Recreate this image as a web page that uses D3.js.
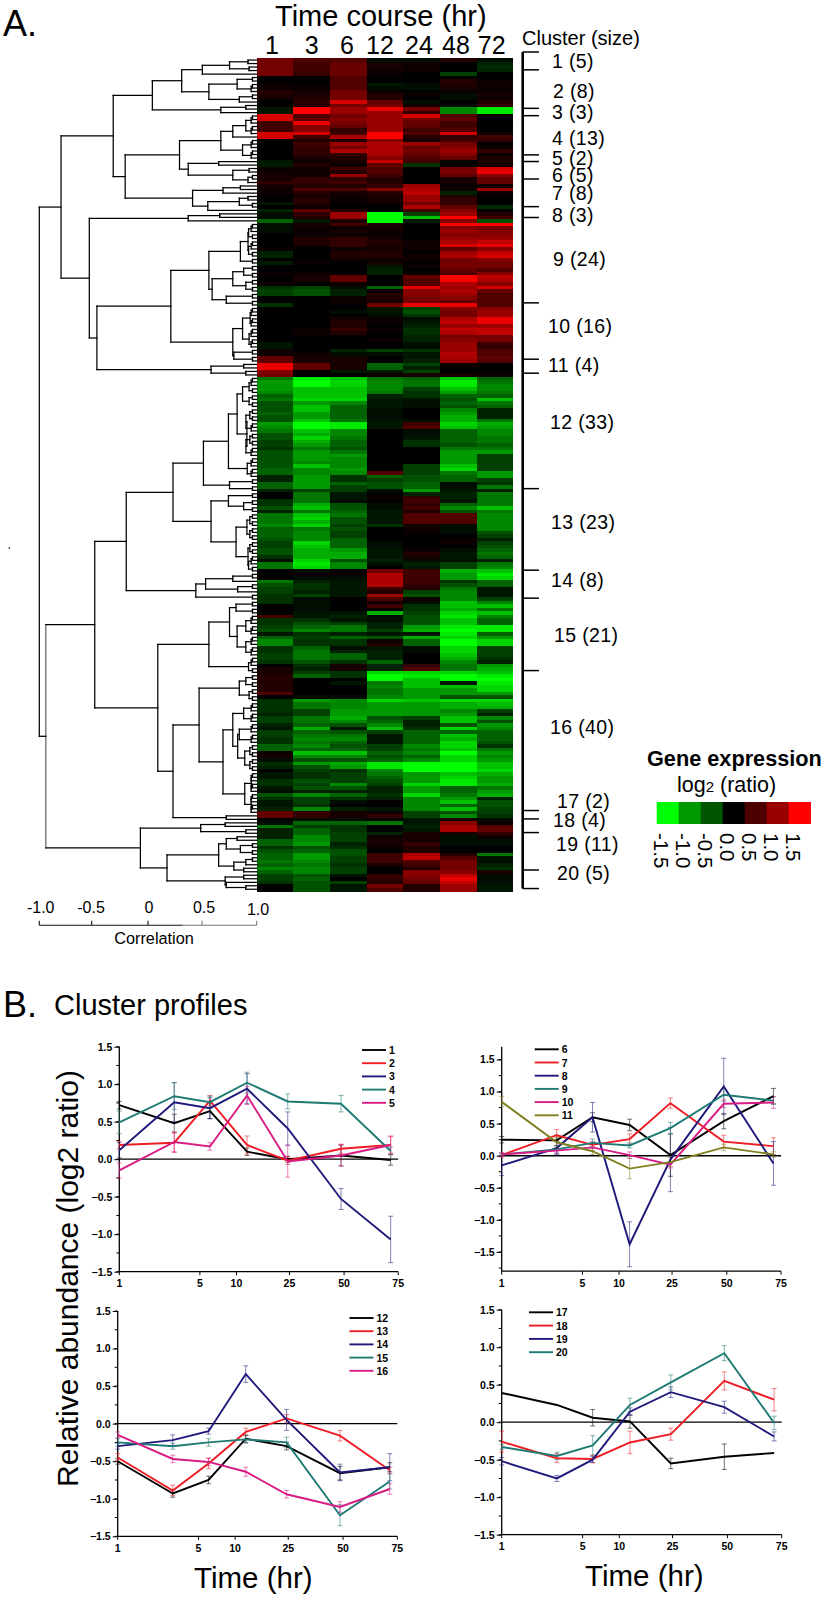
<!DOCTYPE html>
<html><head><meta charset="utf-8">
<script src="https://cdn.jsdelivr.net/npm/d3@7/dist/d3.min.js"></script>
<style>html,body{margin:0;padding:0;background:#fff}svg{display:block}text{font-family:"Liberation Sans",Arial,sans-serif;fill:#000}</style>
</head><body><svg id="c" width="823" height="1598"></svg>
<script>
// ---------- data ----------
const timeLabels=["1","3","6","12","24","48","72"];
const clusterSizes=[5,8,3,13,2,5,8,3,24,16,4,33,23,8,21,40,2,4,11,5];
// cluster boundaries in row units
const clusterBreaks=[-1.8,3.3,14.3,16.4,27.6,29.5,34.5,42.4,45.5,69.9,86,90,123,146.3,154.3,175,215,217.4,221.3,232,237.3];
const legendValues=[-1.5,-1.0,-0.5,0.0,0.5,1.0,1.5];
const correlationTicks=[-1.0,-0.5,0,0.5,1.0];
const heatValues=[
[.8,.6,.6,-.1,-.1,.3,-.1],[.8,.5,.7,.2,.1,-.05,-.3],[.8,.5,.75,.2,.1,0,-.35],[.8,.5,.75,.15,.1,0,-.3],[.8,.45,.75,.1,.05,-.5,.05],
[0,0,.6,0,.05,.05,.05],[.05,.05,.6,0,-.05,.3,.1],[.15,0,.6,-.2,-.1,.3,.15],[.15,.1,.6,-.15,-.1,.2,.1],[.3,.2,.8,.1,.05,.1,.15],[.3,.2,.8,.3,.1,-.1,.2],[.1,.3,.8,.3,-.05,-.1,.1],[0,.35,1.3,.7,-.1,-.05,.3],
[0,.3,.8,.8,.1,-.1,.4],[-.2,1.5,1,1.4,.8,-.9,-1.4],[-.2,1.5,1,1,.4,-.9,-1.4],
[1.3,.6,.8,1,1.3,.6,0],[1.3,.7,.9,1,.8,.7,-.05],[.5,1.4,.8,1,.7,.5,-.05],[.5,.9,.7,1,.7,.5,-.05],[.5,.9,.4,1,.5,.6,0],[1.3,1.3,.5,1.5,.6,1.3,.1],[1.3,.5,1.1,1.5,.3,.4,.5],[0,.3,.3,.9,.2,.5,.4],[0,.5,1,1.1,1,.8,0],[0,.4,.8,1.1,.7,.9,.1],[0,.4,1.1,1.1,.8,1,.4],[0,.35,.4,1.1,.7,.9,.1],[0,.2,.3,.9,.6,.7,.2],
[-.2,.1,.2,1.2,.5,0,.25],[-.25,.3,.1,.7,-.4,.05,.2],
[.15,.15,.5,.6,0,.8,1.3],[.15,.1,.3,.6,0,.8,1.4],[.2,.15,1,.5,0,.7,.9],[.2,.4,.4,.3,-.05,.2,.7],[.4,.4,.5,.3,-.05,.2,.7],
[.2,.3,.3,.4,1,.1,.1],[.1,.6,.6,.9,1.1,.1,1],[.1,.3,.2,.3,1.2,-.3,.1],[0,.2,.1,.2,1,.3,0],[0,.35,.15,.2,1,.4,-.05],[-.2,.3,.05,.1,.8,.4,-.05],[-.05,.1,.05,.05,1.1,.7,-.35],[-.3,.7,.3,.05,.5,.9,.05],
[-.15,.4,1,-1.5,-.5,1,.3],[-.1,.3,1,-1.5,-1.2,1.5,.5],[-.7,-.2,.3,-1.5,-.2,.9,-.6],
[-.1,.2,.5,.2,0,1.5,1.5],[-.1,.1,.1,.2,0,.9,.8],[-.1,.1,.2,.1,0,1,.9],[0,.1,.1,.1,0,.9,.9],[.05,.3,.4,.2,.05,1,1],[.05,.3,.4,.3,.1,1.1,1.2],[.05,.2,.4,.2,.1,1.3,1.4],[.1,.05,.1,.2,.1,.7,.9],[-.3,.05,.3,.3,.05,1,1.2],[-.3,.05,.3,.3,.1,1.1,1.3],[0,.05,.1,.1,.1,.8,.9],[-.25,.1,.05,.2,.05,.8,.8],[0,.05,.05,-.2,.1,.8,.8],[.05,.05,-.05,-.3,0,.7,.6],[.1,.1,.05,-.3,.1,.6,.9],[0,.2,.7,0,.7,1.5,1.2],[0,.2,.7,0,.6,1.5,1.1],[.15,.05,.1,.05,.6,1.1,.9],[-.4,-.5,-.1,-.7,1.4,1,1.3],[-.5,-.6,-.3,.1,.9,1.1,.7],[-.5,-.6,-.3,.3,.9,1,.6],[.05,.05,.15,.3,.8,.9,.6],[0,0,.1,.2,.8,.7,.6],[-.4,0,0,.8,1.4,1.4,.6],
[-.05,0,-.05,-.2,-.5,.9,.9],[-.05,.05,-.1,-.2,-.6,.8,1],[-.05,.05,-.05,-.1,-.4,.8,1],[0,.05,.2,.1,-.1,1.1,1.4],[0,.05,.3,.1,-.2,1.2,1.4],[0,.05,.3,.05,-.3,1,1],[0,.1,.4,.1,-.4,1.2,1.2],[0,.1,.3,.05,-.4,1.1,1.2],[0,.05,.05,.05,-.3,.8,.8],[0,.05,.05,.1,-.3,.9,.8],[-.2,0,.05,.05,-.15,1,.5],[-.2,-.05,.05,.05,-.1,1,.4],[.1,.05,-.3,-.5,-.4,1,.6],[.1,.1,-.1,-.1,-.2,1.1,.6],[.7,.2,.2,-.05,-.2,1.1,.7],[.7,.2,.2,.05,-.3,1,.6],
[1.4,.7,.2,-.7,-.5,.1,0],[1.4,.7,.2,-.7,-.3,0,0],[.9,.05,-.2,-.2,-.5,0,0],[.8,0,.05,.1,.2,.2,.1],
[-.8,-1.4,-1.2,-.8,-.7,-1.2,-.7],[-1,-1.5,-1.3,-.9,-.8,-1.4,-.8],[-1,-1.5,-1.3,-.9,-.8,-1.4,-.9],[-1,-1.2,-1.2,-.9,-.5,-1.2,-.9],[-.9,-1.2,-1.2,-.8,-.4,-1,-.8],[-.7,-1.2,-1.2,-.3,-.4,-.7,-.7],[-.8,-1.3,-1.3,-.2,-.2,-.6,-1.2],[-.6,-1,-.9,-.2,-.15,-.7,-.8],[-.6,-1.2,-.7,-.2,-.15,-.6,-.7],[-.6,-1.2,-.7,-.1,0,-.9,-.3],[-.7,-1,-.7,-.1,0,-1,-.3],[-.6,-1,-.7,-.1,0,-1.1,-.3],[-.6,-1.2,-.8,-.2,-.1,-1.1,-.8],[-1,-1.5,-1.4,-.2,.5,-1.3,-1.1],[-.9,-1.5,-1.4,-.2,.6,-1.2,-1],[-.8,-1.2,-.9,.05,-.15,-.7,-.9],[-.6,-1.1,-.9,.05,-.1,-.7,-.9],[-.6,-1.3,-.8,.05,-.2,-.7,-.8],[-.5,-1.1,-.7,0,-.4,-.7,-.8],[-.5,-1,-.7,0,-.4,-.6,-.7],[-.4,-.8,-.6,0,0,-.8,-.8],[-.6,-1,-.8,0,0,-1,-1],[-.6,-1,-1,-.05,0,-1,-.5],[-.6,-1,-.9,0,0,-1,-.5],[-.6,-.9,-.9,0,0,-1,-.5],[-.6,-1.2,-.9,.05,-.5,-1.2,-.5],[-.7,-.9,-1,.05,-.5,-1.3,-.5],[-.7,-.9,-.9,.6,-.5,-.8,-1],[-.3,-1,-.4,-.7,-.6,-.7,-1],[-.3,-1,-.4,-.5,-.6,-.7,-.5],[-.7,-1,-.7,-.6,-.7,-.1,-.4],[-.7,-1,-.5,-.6,-.7,-.1,-.8],[-.3,-.5,-.5,-.1,-1,-.2,-.3],
[0,-.8,-.2,.05,-.3,-.3,-.8],[0,-.8,-.2,.1,.4,-.3,-.8],[-.4,-.8,-.1,.05,.5,-.2,-.8],[-.4,-1.1,-.6,-.1,.4,-.7,-.8],[-.6,-1.2,-.6,-.15,.5,-.9,-1.2],[-.3,-.8,-.7,-.2,.3,-.6,-.8],[-.8,-1.2,-.8,-.2,.6,.6,-.9],[-.8,-1.3,-.6,-.2,.6,.6,-.9],[-.8,-1.1,-.6,-.2,.6,.6,-.9],[-.9,-1.3,-.5,-.4,.2,-.1,-.9],[-.7,-.8,-.6,0,.1,-.1,-.9],[-.7,-.9,-.5,0,.1,-.1,-.6],[-.7,-.9,-.5,0,.05,.05,-.5],[-.6,-.9,-.7,0,.05,.1,-.3],[-.5,-1.3,-.7,-.1,.05,.1,-.5],[-.5,-1.2,-.7,-.1,.05,.05,-.6],[-.6,-1.1,-1,-.2,.1,-.1,-.7],[-.6,-1.1,-1.1,-.2,.3,-.2,-.8],[-.4,-1.1,-1.1,-.2,.2,-.2,-.7],[-.1,-1.3,-.6,-.3,-.1,-.1,-.3],[-.8,-1.4,-.9,-.1,-.3,-.5,-.8],[-.8,-1.3,-.9,-.05,-.2,-.5,-.9],[0,-.1,0,.8,.5,-1.1,-1.2],
[0,.1,0,1.1,.5,-1,-1.4],[-.05,-.1,-.1,1.1,.5,-1,-1.3],[-.8,-.3,-.2,1.1,.5,-.4,-.7],[-.6,-.4,-.2,1.1,.4,-.6,-.7],[-.5,-.4,-.2,.5,.3,-.8,-.2],[-.5,-.3,-.2,.3,-.5,-.9,-.2],[-.4,-.5,-.2,1,-.6,-.9,-.2],[-.4,-.1,.05,.6,.1,-.9,-.5],
[-.4,-.1,.05,.1,-.1,-1.2,-.9],[0,-.1,.05,.5,-.4,-1.2,-1.2],[0,-.1,.05,.1,-.4,-1.1,-.8],[.05,-.2,-.2,-1.1,-.5,-1.3,-1.2],[.5,-.2,-.3,-.1,-.6,-1.4,-.9],[-.4,-.4,-.2,-.1,-.6,-1.2,-.7],[-.4,-.6,-.5,-.3,-.6,-1.2,-.7],[-.5,-.7,-.8,-.3,-1,-1.4,-1.4],[-.6,-.9,-.8,-.5,-1.1,-1.5,-1.4],[-.2,-.4,-.3,-.2,-.2,-1.4,-.7],[-.7,-.5,-.7,-.6,-1.1,-1.3,-1],[-.9,-.4,-.4,.1,-.7,-1.5,-1.3],[-.9,-.4,-.4,.3,-.7,-1.5,-1.3],[-.4,-.7,-.1,-.2,-.1,-1.3,-.5],[-.4,-.8,-.3,-.3,-.1,-1.3,-.5],[-.5,-.8,-.7,-.3,-.05,-1.2,-.5],[-.5,-.8,-.7,-.3,-.05,-1.1,-.4],[-.4,-.6,-.4,-.7,-.05,-.9,-.3],[0,-.4,.2,-.3,.4,-.8,-1],[.2,-.3,.2,-.3,.6,-.8,-1.1],[.2,-.5,-.4,-1.3,-1.3,-1.3,-1.2],
[.3,-.7,-.4,-1.5,-1.4,-1.5,-1.4],[.3,0,-.05,-1.5,-1.2,-1.5,-1.5],[.3,0,-.2,-.8,-1.2,-.2,-1.4],[.3,0,0,-.9,-1.2,-1.2,-1.3],[.3,0,0,-.8,-1,-1,-1.3],[.6,0,0,-.8,-1,-1,-1],[-.05,-.1,-.1,-.9,-1,-.6,-.6],[-.4,-1,-.9,-1.3,-1.2,-1.3,-1.3],[-.4,-.8,-.9,-1,-1,-1.1,-1.2],[-.4,-.8,-.9,-1,-1,-1.1,-1.1],[-.4,-.5,-1,-1,-1,-.9,-.5],[-.3,-.5,-1,-1,-1,-1,-.3],[-.5,-.8,-1.1,-.6,-.5,-1.2,-.9],[-.5,-.8,-.9,-.7,-.3,-1.2,-.6],[-.3,-.7,-.6,-.9,-.3,-.6,-1],[-.2,-1.1,-.2,-1.2,-.4,-1.3,-.9],[-.5,-.7,-.6,-.5,-.7,-.7,-.7],[-.5,-.8,-.8,-.2,-.7,-1.2,-.7],[-.4,-.9,-.9,-.2,-.7,-1.1,-.7],[-.4,-.8,-.7,-.2,-.7,-1.3,-.6],[-.7,-.9,-.6,-.5,-.9,-1.3,-.4],[-.7,-.7,-.7,-.5,-.8,-1.2,-.8],[.1,-1.2,-1.2,-.7,-.9,-1.5,-1],[.2,-.9,-.9,-.6,-.7,-1.3,-.9],[-.1,-.6,-.6,-.7,-.9,-1.3,-1],[-.4,-1,-1.1,-1.4,-1.5,-1.5,-1.2],[-.3,-.6,-1,-1.4,-1.5,-1.5,-1.2],[-.05,-.5,-.4,-.9,-1.5,-1.5,-1.3],[-.2,-.4,-.5,-.8,-1,-1.2,-1.1],[-.2,-.4,-.5,-.7,-1,-1.3,-1],[-.4,-.6,-.5,-.6,-1,-1.4,-1],[-.4,-.5,-.9,-.5,-1.3,-1.4,-1.1],[-.2,-.6,-.6,-.3,-1,-.7,-.8],[-.1,-.3,-.3,-.3,-1,-.7,-1],[-.6,-.9,-.7,-.4,-1.3,-.8,-1.1],[-.4,-.5,-.4,-.3,-.9,-1,-.3],[-.2,-.5,-.1,0,-.9,-1.2,-.6],[-.2,-.4,0,0,-.9,-.7,-.6],[-.3,-.9,-.3,-.2,-.9,-1.2,-.5],[.7,.4,.2,.1,-.5,-.6,-.5],
[.7,.4,.2,.4,-.5,-.9,-.4],[0,-.1,-.1,.05,-.2,.2,-.1],
[-.1,-.7,-.7,-.8,-.2,.9,.1],[-.8,-.5,-.4,0,-.3,1.1,.6],[-.3,-.7,-.4,0,-.2,1.1,.7],[-.3,-.7,-.5,-.3,.2,.2,.4],
[-.3,-.9,-.5,.1,.2,-.1,.1],[-.7,-.9,-.5,.2,.2,-.1,-.1],[-.7,-1,-.3,.2,.4,-.1,-.1],[-.4,-.6,-.4,.1,.3,0,0],[-.6,-.7,-.6,.05,.3,0,0],[-.7,-1,-.6,.5,1.1,.3,-.8],[-.7,-1,-.5,.5,1.2,.6,-.2],[-.8,-.9,-.5,.5,.6,.8,-.1],[-.7,-.8,-.4,.2,.5,.8,-.3],[-.9,-.9,-.5,0,.3,.8,-.4],[-.7,-.9,-.5,0,.9,.9,.2],
[-.5,-.6,-.2,.4,.9,1.2,-.1],[-.5,-.7,-.05,.4,.8,1.4,-.1],[-.4,-.6,-.5,.3,.7,1.2,-.1],[-.05,-.6,-.2,.8,.3,1,-.2],[0,-.6,-.2,.6,.3,1,-.2]
];
// dendrogram: [merge correlation, children...]; an integer child is that many rows
const treeC1=[.50,[.75,[.92,1,1],[.93,1,1]],1];
const treeC2=[.56,[.82,2,3],[.84,2,1]];
const treeC3=[.67,[.90,1,1],1];
const treeC4=[.67,[.78,[.90,3,3],1],[.87,3,3]];
const treeC5=[.65,1,1];
const treeC6=[.78,[.93,1,1],[.92,2,1]];
const treeC7=[.41,[.69,[.85,1,1],1],[.55,[.84,[.92,1,1],2],1]];
const treeC8=[.37,[.66,1,1],1];
const treeC9=[.56,[.85,[.92,5,5],2],[.59,[.78,[.88,2,2],[.90,2,2]],[.72,2,2]]];
const treeC10=[.78,[.87,[.94,3,3],[.93,3,3]],[.79,2,2]];
const treeC11=[.58,[.88,1,1],[.90,1,1]];
const treeC12=[.51,[.74,[.82,[.87,[.93,3,2],[.93,2,2]],[.91,7,7]],6],[.75,2,2]];
const treeC13=[.58,[.74,2,[.88,2,2]],[.81,[.91,4,4],[.92,4,5]]];
const treeC14=[.44,[.53,[.78,2,1],[.825,2,1]],2];
const treeC15=[.56,[.75,[.81,2,2],[.82,[.90,3,3],[.90,3,3]]],5];
const treeC16=[.47,[.84,[.90,2,2],[.93,2,2]],[.69,[.78,[.88,3,3],[.825,[.84,3,3],[.89,4,4]]],[.89,[.95,3,3],[.95,3,3]]]];
const treeC17=[.72,1,1];
const treeC18=[.485,[.71,1,1],[.90,1,1]];
const treeC19=[.65,[.72,[.82,1,1],[.85,2,2]],[.79,[.90,2,1],[.88,1,1]]];
const treeC20=[.71,[.88,1,1],[.72,1,[.90,1,1]]];
const treeRoot=[-1.0,
 [-.80,[-.32,[.04,[.31,treeC1,treeC2],treeC3],[-.21,[.29,treeC4,[.37,treeC5,treeC6]],treeC7]],
       [-.54,treeC8,[-.47,[.21,treeC9,treeC10],treeC11]]],
 [-.94,[-.49,[-.20,[.23,treeC12,treeC13],treeC14],[.09,treeC15,[.23,treeC16,treeC17]]],
       [-.07,treeC18,[.175,treeC19,treeC20]]]];
const greyMerges=[-.94];

// cluster profiles
const hours=[1,3,6,12,24,48,72];
const xTickValues=[1,5,10,25,50,75];
const p1Names=["1","2","3","4","5"];
const p1Values=[[.72,.48,.64,.10,0,.05,-.01],[.19,.22,.78,.19,-.02,.14,.19],[.12,.76,.68,.94,.41,-.53,-1.07],[.49,.84,.76,1.02,.77,.74,.11],[-.15,.23,.17,.85,-.03,.05,.19]];
const p1Errors=[[.05,.12,.1,.05,.04,.14,.07],[.05,.13,.07,.12,.05,.06,.12],[.1,.26,.14,.2,.22,.14,.31],[.15,.18,.08,.14,.1,.11,.05],[.1,.13,.05,.12,.21,.14,.11]];
const p2Names=["6","7","8","9","10","11"];
const p2Values=[[.25,.24,.6,.48,.01,.54,.93],[.01,.32,.17,.26,.82,.22,.15],[-.15,.12,.6,-1.38,-.06,1.08,-.12],[.02,.1,.2,.16,.43,.95,.86],[.02,.08,.13,.01,-.14,.81,.83],[.84,.21,.07,-.2,-.1,.13,.02]];
const p2Errors=[[.05,.08,.07,.09,.33,.12,.12],[.03,.09,.05,.08,.08,.1,.13],[.16,.1,.23,.35,.5,.44,.34],[.02,.06,.06,.04,.09,.1,.06],[.03,.04,.05,.05,.05,.06,.09],[.08,.07,.05,.16,.07,.05,.04]];
const p3Names=["12","13","14","15","16"];
const p3Values=[[-.5,-.93,-.75,-.2,-.3,-.66,-.58],[-.45,-.89,-.53,-.11,.07,-.16,-.62],[-.3,-.22,-.1,.66,.05,-.65,-.58],[-.25,-.3,-.25,-.21,-.25,-1.22,-.77],[-.15,-.47,-.51,-.64,-.94,-1.11,-.87]];
const p3Errors=[[.04,.05,.05,.05,.05,.09,.06],[.05,.07,.07,.05,.05,.07,.04],[.04,.07,.04,.11,.14,.11,.18],[.05,.04,.05,.05,.07,.14,.1],[.04,.05,.05,.06,.05,.07,.07]];
const p4Names=["17","18","19","20"];
const p4Values=[[.39,.23,.06,.01,-.55,-.46,-.41],[-.26,-.48,-.49,-.27,-.16,.55,.3],[-.52,-.75,-.5,.14,.4,.2,-.19],[-.33,-.45,-.31,.23,.53,.92,-.01]];
const p4Errors=[[0,0,.11,.09,.07,.17,0],[.14,.06,.05,.15,.08,.12,.15],[.05,.04,.04,.05,.07,.08,.06],[.03,.05,.13,.09,.1,.1,.09]];

// ---------- layout / style ----------
const FONT='"Liberation Sans",Arial,sans-serif';
const heat={x0:256.7,x1:513.3,y0:58.3,y1:891};
const clusterLabelX=[552,553,552,552,552,552,552,552,553,548,548,550,551,551,554,550,557,553,556,557];
const clusterLabelY=[61,90.7,112,137.5,158,175,192.5,215,258.7,326,364.7,421.7,521.5,579.6,634.6,727,800.6,820,844.4,873];
const timeLabelX=[272,311.6,347,380,419,456,491.7];
const corrLabel={"-1":[40.7,912.7],"-0.5":[91,912.7],"0":[149,912.7],"0.5":[204,912.7],"1":[258,915]};
const corrTickX=[39.3,91.7,148,202,256.7];
const seriesColors=["#000000","#ee1c25","#1f1a7a","#1f7a73","#d81b84","#808020"];
const xFractions=[[1,0],[3,.197],[5,.289],[6,.325],[10,.42],[12,.458],[24,.604],[25,.61],[48,.795],[50,.806],[72,.973],[75,1]];

const svg=d3.select("#c");
function txt(x,y,s,size,opt={}){
  const t=svg.append("text").attr("x",x).attr("y",y).attr("font-size",size).text(s);
  if(opt.bold)t.attr("font-weight","bold");
  if(opt.anchor)t.attr("text-anchor",opt.anchor);
  if(opt.central)t.attr("dominant-baseline","central");
  if(opt.ls)t.attr("letter-spacing",opt.ls);
  return t;
}
// ---- heatmap ----
const level=d3.scalePow().exponent(1.25).domain([0,1.5]).range([0,255]).clamp(true);
const colorScale=v=>v<0?d3.rgb(0,level(-v),0):d3.rgb(level(v),0,0);
const xBand=d3.scaleBand().domain(d3.range(7)).range([heat.x0,heat.x1]);
const yBand=d3.scaleBand().domain(d3.range(heatValues.length)).range([heat.y0,heat.y1]);
const defs=svg.append("defs");
defs.append("filter").attr("id","soft").attr("x","0").attr("y","0").attr("width","1").attr("height","1")
  .append("feGaussianBlur").attr("stdDeviation","0.5");
const gHeat=svg.append("g").attr("filter","url(#soft)");
gHeat.selectAll("g").data(heatValues).join("g").attr("transform",(d,i)=>`translate(0,${yBand(i)})`)
 .selectAll("rect").data(d=>d).join("rect")
 .attr("x",(d,i)=>xBand(i)).attr("width",(d,i)=>xBand.bandwidth()+(i<6?1:0)).attr("height",yBand.bandwidth()+1)
 .attr("shape-rendering","crispEdges").attr("fill",d=>colorScale(d));

// ---- titles ----
txt(3,36,"A.",36);
txt(275,26,"Time course (hr)",29);
timeLabels.forEach((s,i)=>txt(timeLabelX[i],54.4,s,25,{anchor:"middle"}));
txt(522,45,"Cluster (size)",20);
txt(3,1016.7,"B.",36);
txt(54,1015,"Cluster profiles",29);

// ---- cluster bracket ----
const rowY=r=>heat.y0+(heat.y1-heat.y0)*r/heatValues.length;
svg.append("line").attr("x1",522.7).attr("x2",522.7).attr("y1",rowY(clusterBreaks[0])).attr("y2",rowY(clusterBreaks[clusterBreaks.length-1])).attr("stroke","#000").attr("stroke-width",2.6);
svg.selectAll(".ctick").data(clusterBreaks).join("line").attr("class","ctick")
 .attr("x1",522.7).attr("x2",539).attr("y1",d=>rowY(d)).attr("y2",d=>rowY(d)).attr("stroke","#000").attr("stroke-width",1.5);
clusterSizes.forEach((n,i)=>txt(clusterLabelX[i],clusterLabelY[i],`${i+1} (${n})`,19.5,{central:true,ls:.35}));

// ---- dendrogram ----
const xTree=d3.scaleLinear().domain([-1,1]).range([39.3,256.7]);
let nextRow=0;
const segs=[];
function ladder(n){ // expands an n-row terminal group into small merges close to the heat map
  if(n===1)return 1;
  const a=Math.ceil(n/2);
  return [.985-.012*n,ladder(a),ladder(n-a)];
}
function place(node){
  if(typeof node==="number"){
    if(node===1){const y=yBand(nextRow)+yBand.bandwidth()/2;nextRow++;return{c:1,y};}
    return place(ladder(node));
  }
  const c=node[0],kids=node.slice(1).map(place);
  const yt=kids[0].y,yb=kids[kids.length-1].y;
  const grey=greyMerges.includes(c);
  segs.push({x1:c,x2:c,y1:yt,y2:yb,grey});
  kids.forEach(k=>segs.push({x1:c,x2:k.c,y1:k.y,y2:k.y}));
  return{c,y:(yt+yb)/2};
}
place(treeRoot);
svg.append("g").selectAll("line").data(segs).join("line")
 .attr("x1",d=>xTree(d.x1)).attr("x2",d=>xTree(d.x2)).attr("y1",d=>d.y1).attr("y2",d=>d.y2)
 .attr("stroke",d=>d.grey?"#666":"#000").attr("stroke-width",1.25).attr("stroke-linecap","square");

// correlation scale
const corrSplit=(182.7-148)/108.7;
const corrY=925.3;
svg.append("line").attr("x1",xTree(-1)).attr("x2",xTree(corrSplit)).attr("y1",corrY).attr("y2",corrY).attr("stroke","#111").attr("stroke-width",1.1);
svg.append("line").attr("x1",xTree(corrSplit)).attr("x2",xTree(1)).attr("y1",corrY).attr("y2",corrY).attr("stroke","#777").attr("stroke-width",1.1);
correlationTicks.forEach((v,i)=>{
  svg.append("line").attr("x1",corrTickX[i]).attr("x2",corrTickX[i]).attr("y1",corrY).attr("y2",corrY-4.5).attr("stroke",v>.3?"#777":"#111").attr("stroke-width",1.1);
  const lab=v===0?"0":v.toFixed(1);
  const p=corrLabel[String(v)];
  txt(p[0],p[1],lab,16,{anchor:"middle"});
});
txt(154,944,"Correlation",16.3,{anchor:"middle"});
svg.append("circle").attr("cx",9.3).attr("cy",548).attr("r",.8).attr("fill","#000");

// ---- colour legend ----
txt(647,766,"Gene expression",21.7,{bold:true});
const logT=txt(677,792,"log",21.5);
logT.append("tspan").attr("font-size",15).text("2");
logT.append("tspan").text(" (ratio)");
const xLegend=d3.scaleBand().domain(legendValues).range([656.7,810.7]);
const legendColors=["#00ff00","#009900","#005500","#000000","#4d0000","#990000","#ff0000"];
svg.selectAll(".lg").data(legendValues).join("rect").attr("class","lg")
 .attr("x",d=>xLegend(d)).attr("y",802).attr("width",xLegend.bandwidth()+.3).attr("height",22)
 .attr("fill",(d,i)=>legendColors[i]);
legendValues.forEach(v=>{
  const cx=xLegend(v)+xLegend.bandwidth()/2-13.5;
  svg.append("text").attr("font-size",20.5)
   .attr("transform",`translate(${cx},833) rotate(90)`).text(v.toFixed(1));
});

// ---- profile panels ----
const xFrac=d3.scaleLinear().domain(xFractions.map(d=>d[0])).range(xFractions.map(d=>d[1]));
function panel(o){
  const x=v=>o.x0+(o.x1-o.x0)*xFrac(v);
  const y=d3.scaleLinear().domain(o.dom).range([o.yb,o.yt]);
  const g=svg.append("g");
  const major=d3.range(-1.5,1.51,.5), minor=d3.range(-1.75,1.76,.25).filter(v=>v>=o.dom[0]-1e-6&&v<=o.dom[1]+1e-6);
  const axL=d3.axisLeft(y).tickValues(major).tickFormat(d3.format(".1f")).tickSize(5).tickPadding(2);
  const gy=g.append("g").attr("transform",`translate(${o.x0},0)`).call(axL);
  gy.append("g").selectAll("line").data(minor).join("line").attr("x1",-3).attr("x2",0).attr("y1",d=>y(d)).attr("y2",d=>y(d)).attr("stroke","#000");
  gy.select(".domain").attr("d",`M0,${o.yb}V${o.yt}`).attr("stroke-width",1.3);
  const gx=g.append("g").attr("transform",`translate(0,${o.yb})`);
  gx.append("line").attr("x1",o.x0).attr("x2",o.x1).attr("stroke","#000").attr("stroke-width",1.3);
  xTickValues.forEach(v=>{
    gx.append("line").attr("x1",x(v)).attr("x2",x(v)).attr("y2",3.5).attr("stroke","#000").attr("stroke-width",1);
    gx.append("text").attr("x",x(v)).attr("y",15.5).attr("text-anchor","middle").attr("font-size",10.5).attr("font-weight","bold").text(v);
  });
  gy.selectAll("text").attr("font-size",10.5).attr("font-weight","bold").attr("font-family",FONT).attr("fill","#000");
  g.append("line").attr("x1",o.x0).attr("x2",o.x1).attr("y1",y(0)).attr("y2",y(0)).attr("stroke","#000").attr("stroke-width",1.3);
  const line=d3.line().x((d,i)=>x(hours[i])).y(d=>y(d));
  o.vals.forEach((vals,s)=>{
    const col=seriesColors[s], errs=o.errs[s];
    const ge=g.append("g").attr("stroke",col).attr("stroke-opacity",.55).attr("stroke-width",1).attr("fill","none");
    vals.forEach((v,i)=>{
      if(!errs[i])return;
      const px=x(hours[i]);
      ge.append("line").attr("x1",px).attr("x2",px).attr("y1",y(v-errs[i])).attr("y2",y(v+errs[i]));
      [v-errs[i],v+errs[i]].forEach(w=>ge.append("line").attr("x1",px-2.5).attr("x2",px+2.5).attr("y1",y(w)).attr("y2",y(w)));
    });
  });
  o.vals.forEach((vals,s)=>{
    g.append("path").datum(vals).attr("d",line).attr("fill","none").attr("stroke",seriesColors[s]).attr("stroke-width",1.9);
  });
  o.names.forEach((n,s)=>{
    const ly=o.ly+o.lstep*s;
    g.append("line").attr("x1",o.lx).attr("x2",o.lx+24).attr("y1",ly).attr("y2",ly).attr("stroke",seriesColors[s]).attr("stroke-width",1.9);
    g.append("text").attr("x",o.lx+27).attr("y",ly+4).attr("font-size",10.5).attr("font-weight","bold").text(n);
  });
}
panel({x0:119.3,x1:398.2,dom:[-1.5,1.5],yb:1271.7,yt:1046.7,vals:p1Values,errs:p1Errors,names:p1Names,lx:362,ly:1050,lstep:13.2});
panel({x0:501.7,x1:781,dom:[-1.8,1.7],yb:1271.2,yt:1046.7,vals:p2Values,errs:p2Errors,names:p2Names,lx:534.7,ly:1049.3,lstep:13.2});
panel({x0:117.7,x1:397.3,dom:[-1.5,1.5],yb:1536.3,yt:1311,vals:p3Values,errs:p3Errors,names:p3Names,lx:349.5,ly:1318,lstep:13.2});
panel({x0:501.7,x1:781.7,dom:[-1.5,1.5],yb:1534.7,yt:1309.7,vals:p4Values,errs:p4Errors,names:p4Names,lx:529,ly:1312.3,lstep:13.3});

// axis titles
svg.append("text").attr("font-size",30).attr("transform","translate(78,1487) rotate(-90)").text("Relative abundance (log2 ratio)");
txt(194,1587.7,"Time (hr)",29.5);
txt(585,1585.5,"Time (hr)",29.5);
</script></body></html>
